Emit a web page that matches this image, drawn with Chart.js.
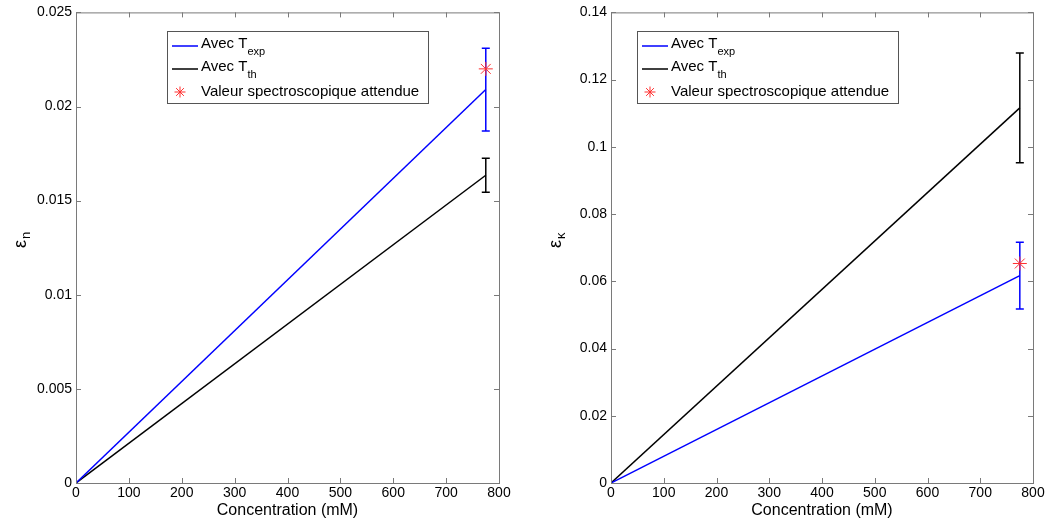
<!DOCTYPE html>
<html>
<head>
<meta charset="utf-8">
<script src="https://cdn.jsdelivr.net/npm/chart.js@4/dist/chart.umd.min.js"></script>
<style>
  html, body { margin: 0; padding: 0; background: #fff; }
  body { width: 1047px; height: 523px; position: relative; overflow: hidden; }
  canvas { position: absolute; top: 0; }
  #cN { left: 0; }
  #cK { left: 535px; }
</style>
</head>
<body>
<canvas id="cN" width="523" height="523"></canvas>
<canvas id="cK" width="512" height="523"></canvas>
<script>
// Données
const conc = [0, 775];               // concentration (mM)

const epsN_exp = [0, 0.0209];
const epsN_th  = [0, 0.01635];
const errN_exp = [0, 0.0022];
const errN_th  = [0, 0.0009];
const specN    = [0.0220];           // valeur spectroscopique (à 775 mM)

const epsK_exp = [0, 0.0617];
const epsK_th  = [0, 0.1116];
const errK_exp = [0, 0.0099];
const errK_th  = [0, 0.0163];
const specK    = [0.0653];

const ticksX = [0, 100, 200, 300, 400, 500, 600, 700, 800];

const FONT = "'Liberation Sans', Arial, sans-serif";
const pts = (xs, ys) => xs.map((x, i) => ({ x, y: ys[i] }));

// Cadre + graduations intérieures façon MATLAB
const boxPlugin = {
  id: 'box',
  afterDraw(chart) {
    const { ctx, chartArea: a, scales } = chart;
    ctx.save();
    ctx.strokeStyle = '#7a7a7a';
    ctx.lineWidth = 1;
    ctx.strokeRect(a.left + 0.5, a.top + 0.5, a.right - a.left, a.bottom - a.top);
    ctx.beginPath();
    scales.x.ticks.forEach(t => {
      const px = Math.round(scales.x.getPixelForValue(t.value)) + 0.5;
      ctx.moveTo(px, a.bottom); ctx.lineTo(px, a.bottom - 5);
      ctx.moveTo(px, a.top); ctx.lineTo(px, a.top + 5);
    });
    scales.y.ticks.forEach(t => {
      const py = Math.round(scales.y.getPixelForValue(t.value)) + 0.5;
      ctx.moveTo(a.left, py); ctx.lineTo(a.left + 5, py);
      ctx.moveTo(a.right, py); ctx.lineTo(a.right - 5, py);
    });
    ctx.stroke();
    ctx.restore();
  }
};

// Barres d'erreur
const errPlugin = {
  id: 'errbars',
  beforeDatasetsDraw(chart) {
    const { ctx, scales } = chart;
    ctx.save();
    chart.data.datasets.forEach(ds => {
      if (!ds.err) return;
      ctx.strokeStyle = ds.borderColor;
      ctx.lineWidth = 1.5;
      ds.data.forEach((p, i) => {
        const e = ds.err[i];
        if (!e) return;
        const px = scales.x.getPixelForValue(p.x);
        const y1 = scales.y.getPixelForValue(p.y + e);
        const y2 = scales.y.getPixelForValue(p.y - e);
        ctx.beginPath();
        ctx.moveTo(px, y1); ctx.lineTo(px, y2);
        ctx.moveTo(px - 4, y1); ctx.lineTo(px + 4, y1);
        ctx.moveTo(px - 4, y2); ctx.lineTo(px + 4, y2);
        ctx.stroke();
      });
    });
    ctx.restore();
  }
};

// Titres d'axes et légende (avec indices)
function textPlugin(sub, legendLeft) {
  return {
    id: 'texts',
    afterDraw(chart) {
      const { ctx, chartArea: a } = chart;
      ctx.save();
      ctx.fillStyle = '#000';
      // axe x
      ctx.font = '16px ' + FONT;
      ctx.textAlign = 'center';
      ctx.textBaseline = 'middle';
      ctx.fillText('Concentration (mM)', (a.left + a.right) / 2, 511);
      // axe y : epsilon indice
      ctx.save();
      ctx.translate(21, 240);
      ctx.rotate(-Math.PI / 2);
      ctx.textAlign = 'left';
      ctx.textBaseline = 'middle';
      ctx.font = '18px ' + FONT;
      ctx.fillText('ε', -8, 0);
      const w = ctx.measureText('ε').width;
      ctx.font = '13px ' + FONT;
      ctx.fillText(sub, -8 + w + 1, 5);
      ctx.restore();

      // légende
      const L = legendLeft, T = 31, W = 261, H = 72;
      ctx.fillStyle = '#fff';
      ctx.fillRect(L, T, W, H);
      ctx.strokeStyle = '#555';
      ctx.lineWidth = 1;
      ctx.strokeRect(L + 0.5, T + 0.5, W, H);
      const rows = [
        { color: '#0000ff', main: 'Avec T', idx: 'exp', y: 44 },
        { color: '#000000', main: 'Avec T', idx: 'th', y: 67 }
      ];
      rows.forEach(r => {
        ctx.strokeStyle = r.color;
        ctx.lineWidth = 1.5;
        ctx.beginPath();
        ctx.moveTo(L + 5, r.y + 2); ctx.lineTo(L + 31, r.y + 2);
        ctx.stroke();
        ctx.fillStyle = '#000';
        ctx.textAlign = 'left';
        ctx.textBaseline = 'middle';
        ctx.font = '15px ' + FONT;
        ctx.fillText(r.main, L + 34, r.y);
        const mw = ctx.measureText(r.main).width;
        ctx.font = '11px ' + FONT;
        ctx.fillText(r.idx, L + 34 + mw, r.y + 8);
      });
      // étoile
      const sx = L + 13, sy = 92, s = 5.5;
      ctx.strokeStyle = '#ff3030';
      ctx.lineWidth = 1;
      ctx.beginPath();
      ctx.moveTo(sx - s, sy); ctx.lineTo(sx + s, sy);
      ctx.moveTo(sx, sy - s); ctx.lineTo(sx, sy + s);
      const d = s * 0.707;
      ctx.moveTo(sx - d, sy - d); ctx.lineTo(sx + d, sy + d);
      ctx.moveTo(sx - d, sy + d); ctx.lineTo(sx + d, sy - d);
      ctx.stroke();
      ctx.fillStyle = '#000';
      ctx.font = '15px ' + FONT;
      ctx.fillText('Valeur spectroscopique attendue', L + 34, sy);
      ctx.restore();
    }
  };
}

function makeChart(id, expY, thY, expE, thE, spec, ymax, ystep, sub, legendLeft, padRight) {
  return new Chart(document.getElementById(id), {
    type: 'scatter',
    data: {
      datasets: [
        { data: pts(conc, expY), err: expE, showLine: true, borderColor: '#0000ff', borderWidth: 1.5, pointRadius: 0 },
        { data: pts(conc, thY), err: thE, showLine: true, borderColor: '#000000', borderWidth: 1.5, pointRadius: 0 },
        { data: pts(conc.slice(1), spec), showLine: false, pointStyle: 'star', pointRadius: 7,
          borderColor: '#ff3030', backgroundColor: '#ff3030', borderWidth: 1 }
      ]
    },
    options: {
      responsive: false,
      animation: false,
      devicePixelRatio: 1,
      layout: { padding: { left: 0, top: 9, right: padRight, bottom: 0 } },
      plugins: { legend: { display: false }, tooltip: { enabled: false } },
      scales: {
        x: {
          type: 'linear', min: 0, max: 800,
          afterBuildTicks: s => { s.ticks = ticksX.map(v => ({ value: v })); },
          afterFit: s => { s.height = 40; },
          grid: { display: false, drawTicks: false },
          border: { display: false },
          ticks: { color: '#000', padding: 2, font: { size: 14, family: FONT }, maxRotation: 0 }
        },
        y: {
          min: 0, max: ymax,
          afterFit: s => { s.width = 76; },
          grid: { display: false, drawTicks: false },
          border: { display: false },
          ticks: { stepSize: ystep, color: '#000', padding: 4, font: { size: 14, family: FONT },
                   callback: v => String(+v.toFixed(4)) }
        }
      }
    },
    plugins: [errPlugin, boxPlugin, textPlugin(sub, legendLeft)]
  });
}

makeChart('cN', epsN_exp, epsN_th, errN_exp, errN_th, specN, 0.025, 0.005, 'n', 167, 24);
makeChart('cK', epsK_exp, epsK_th, errK_exp, errK_th, specK, 0.14, 0.02, 'κ', 102, 14);
</script>
</body>
</html>
